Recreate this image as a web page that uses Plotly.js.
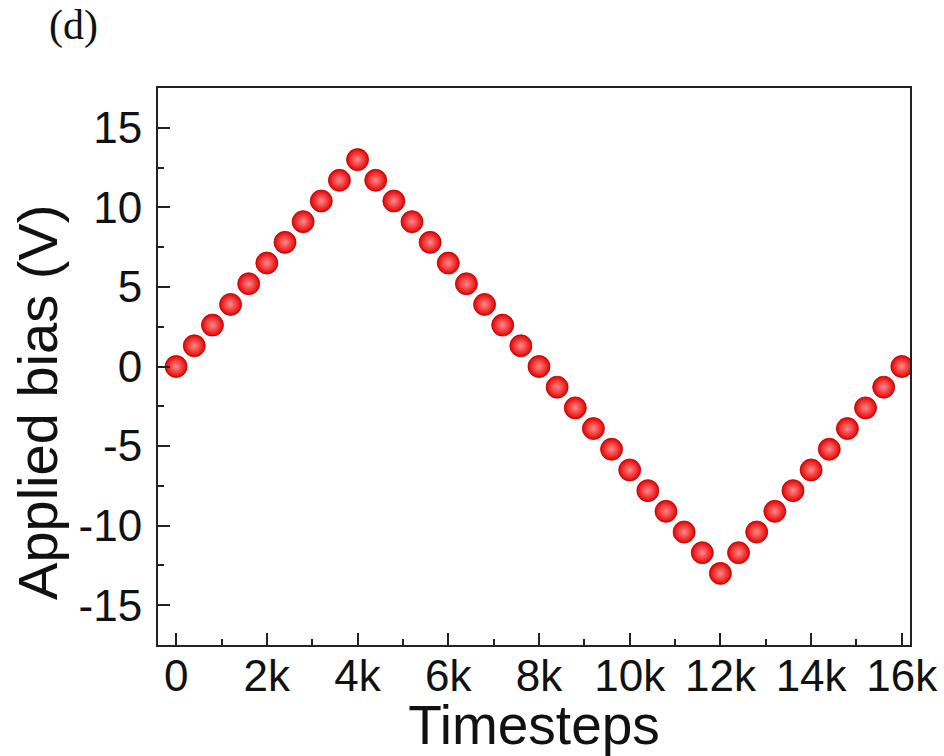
<!DOCTYPE html>
<html>
<head>
<meta charset="utf-8">
<script src="https://cdn.plot.ly/plotly-3.0.1.min.js"></script>
<style>html,body{margin:0;padding:0;background:#fff;}#chart{width:944px;height:756px;}</style>
</head>
<body>
<div id="chart"></div>
<script>
const timesteps = [0,400,800,1200,1600,2000,2400,2800,3200,3600,4000,4400,4800,5200,5600,6000,6400,6800,7200,7600,8000,8400,8800,9200,9600,10000,10400,10800,11200,11600,12000,12400,12800,13200,13600,14000,14400,14800,15200,15600,16000];
const appliedBias = [0,1.3,2.6,3.9,5.2,6.5,7.8,9.1,10.4,11.7,13,11.7,10.4,9.1,7.8,6.5,5.2,3.9,2.6,1.3,0,-1.3,-2.6,-3.9,-5.2,-6.5,-7.8,-9.1,-10.4,-11.7,-13,-11.7,-10.4,-9.1,-7.8,-6.5,-5.2,-3.9,-2.6,-1.3,0];
const xTickVals = [0,2000,4000,6000,8000,10000,12000,14000,16000];
const xTickText = ['0','2k','4k','6k','8k','10k','12k','14k','16k'];
const yTickVals = [-15,-10,-5,0,5,10,15];
const yTickText = ['-15','-10','-5','0','5','10','15'];

const sans = 'Liberation Sans, Arial, sans-serif';
const trace = {
  x: timesteps, y: appliedBias, type: 'scatter', mode: 'markers',
  marker: {size: 22, color: '#e60000', gradient: {type: 'radial', color: '#ff8a8a'}, line: {color: '#b00000', width: 0.8}},
  hoverinfo: 'x+y', showlegend: false
};
const axisCommon = {
  showline: true, linecolor: '#222', linewidth: 2, mirror: true,
  ticks: 'inside', ticklen: 12, tickwidth: 2, tickcolor: '#222',
  showgrid: false, zeroline: false,
  tickfont: {family: sans, size: 44, color: '#111'},
  minor: {ticks: 'inside', ticklen: 6, tickwidth: 2, tickcolor: '#222', showgrid: false}
};
const layout = {
  width: 944, height: 756,
  margin: {l: 158, r: 34, t: 88, b: 111},
  paper_bgcolor: '#fff', plot_bgcolor: '#fff',
  xaxis: Object.assign({}, axisCommon, {
    range: [-400, 16180], tickmode: 'array', tickvals: xTickVals, ticktext: xTickText,
    ticklabelstandoff: -9,
    minor: Object.assign({}, axisCommon.minor, {dtick: 1000, tick0: 0}),
    title: {text: 'Timesteps', font: {family: sans, size: 55, color: '#111'}, standoff: 0}
  }),
  yaxis: Object.assign({}, axisCommon, {
    range: [-17.5, 17.5], tickmode: 'array', tickvals: yTickVals, ticktext: yTickText,
    ticklabelstandoff: 5,
    minor: Object.assign({}, axisCommon.minor, {dtick: 2.5, tick0: 0})
  }),
  annotations: [{
    text: 'Applied bias (V)', xref: 'paper', yref: 'paper', x: -0.1596, y: 0.4363,
    xanchor: 'center', yanchor: 'middle', textangle: -90, showarrow: false,
    font: {family: sans, size: 56, color: '#111'}
  }, {
    text: '(d)', xref: 'paper', yref: 'paper', x: -0.113, y: 1.112, xanchor: 'center', yanchor: 'middle',
    showarrow: false, font: {family: 'Liberation Serif, Times New Roman, serif', size: 42, color: '#111'}
  }]
};
Plotly.newPlot('chart', [trace], layout, {displayModeBar: false, staticPlot: true});
</script>
</body>
</html>
